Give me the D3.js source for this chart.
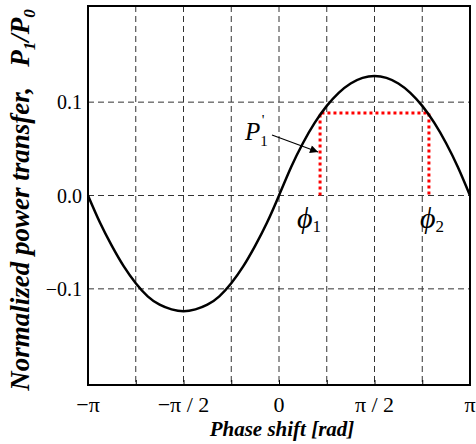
<!DOCTYPE html>
<html><head><meta charset="utf-8">
<script src="https://cdn.jsdelivr.net/npm/d3@7"></script>
<style>html,body{margin:0;padding:0;background:#fff;}svg{display:block;}</style>
</head><body>
<svg id="c" width="476" height="444"></svg>
<script>
// phase shift in units of pi
const phase = [-1, -0.9375, -0.875, -0.8125, -0.75, -0.6875, -0.625, -0.5625, -0.5, -0.4375, -0.375, -0.3125, -0.25, -0.1875, -0.125, -0.0625,
  0, 0.0625, 0.125, 0.1875, 0.25, 0.3125, 0.375, 0.4375, 0.5, 0.5625, 0.625, 0.6875, 0.75, 0.8125, 0.875, 0.9375, 1];
const power = [0, -0.029, -0.054, -0.076, -0.094, -0.108, -0.117, -0.122, -0.124, -0.122, -0.117, -0.108, -0.094, -0.076, -0.054, -0.029,
  0, 0.030, 0.056, 0.078, 0.096, 0.110, 0.120, 0.126, 0.128, 0.126, 0.120, 0.110, 0.096, 0.078, 0.056, 0.030, 0];
const xTicks = [-1, -0.5, 0, 0.5, 1];
const xTickLabels = ["\u2212\u03C0", "\u2212\u03C0 / 2", "0", "\u03C0 / 2", "\u03C0"];
const xGrid = [-0.75, -0.5, -0.25, 0, 0.25, 0.5, 0.75];
const yTicks = [-0.1, 0.0, 0.1];
const yTickLabels = ["\u22120.1", "0.0", "0.1"];
const phi1 = 0.215, phi2 = 0.785, pLevel = 0.0885;

const svg = d3.select("#c");
const L = 88, R = 470, T = 6, B = 385;
const x = d3.scaleLinear().domain([-1, 1]).range([L, R]);
const y = d3.scaleLinear().domain([-0.203, 0.203]).range([B, T]);
const serif = "'Liberation Serif','Times New Roman',serif";

// grid
const g = svg.append("g");
g.selectAll("line.vg").data(xGrid).join("line")
  .attr("x1", d => x(d)).attr("x2", d => x(d)).attr("y1", T).attr("y2", B)
  .attr("stroke", "#333").attr("stroke-width", 1).attr("stroke-dasharray", "6,4");
g.selectAll("line.hg").data(yTicks).join("line")
  .attr("x1", L).attr("x2", R).attr("y1", d => y(d)).attr("y2", d => y(d))
  .attr("stroke", "#333").attr("stroke-width", 1).attr("stroke-dasharray", "6,4");

// inward ticks on bottom axis
const xAxis = d3.axisBottom(x).tickValues(xGrid.concat([-1, 1])).tickSize(-5).tickFormat("");
const xa = svg.append("g").attr("transform", `translate(0,${B})`).call(xAxis);
xa.select(".domain").remove();
xa.selectAll("line").attr("stroke", "#000");

// tick labels
svg.selectAll("text.xt").data(xTicks).join("text")
  .attr("x", d => x(d)).attr("y", 412).attr("text-anchor", "middle")
  .attr("font-family", serif).attr("font-size", 22)
  .text((d, i) => xTickLabels[i]);
svg.selectAll("text.yt").data(yTicks).join("text")
  .attr("x", 82).attr("y", d => y(d) + 7).attr("text-anchor", "end")
  .attr("font-family", serif).attr("font-size", 20)
  .text((d, i) => yTickLabels[i]);

// red dotted operating window
const red = [[phi1, 0], [phi1, pLevel], [phi2, pLevel], [phi2, 0]];
svg.append("path").datum(red)
  .attr("d", d3.line().x(d => x(d[0])).y(d => y(d[1])))
  .attr("fill", "none").attr("stroke", "#ff0000").attr("stroke-width", 3)
  .attr("stroke-dasharray", "3,3");

// curve
svg.append("path").datum(phase.map((p, i) => [p, power[i]]))
  .attr("d", d3.line().x(d => x(d[0])).y(d => y(d[1])).curve(d3.curveNatural))
  .attr("fill", "none").attr("stroke", "#000").attr("stroke-width", 2.5);

// frame
svg.append("rect").attr("x", L).attr("y", T).attr("width", R - L).attr("height", B - T)
  .attr("fill", "none").attr("stroke", "#000").attr("stroke-width", 2);

// arrow
svg.append("defs").append("marker").attr("id", "ah").attr("viewBox", "0 0 10 10")
  .attr("refX", 10).attr("refY", 5).attr("markerWidth", 11).attr("markerHeight", 8)
  .attr("markerUnits", "userSpaceOnUse").attr("orient", "auto")
  .append("path").attr("d", "M0,0L10,5L0,10z").attr("fill", "#000");
svg.append("line").attr("x1", 272).attr("y1", 135).attr("x2", x(phi1) - 2).attr("y2", 152)
  .attr("stroke", "#000").attr("stroke-width", 1.2).attr("marker-end", "url(#ah)");

// annotations
const p1 = svg.append("text").attr("x", 245).attr("y", 140).attr("font-family", serif)
  .attr("font-size", 25).attr("font-style", "italic");
p1.append("tspan").text("P");
p1.append("tspan").attr("font-size", 15).attr("font-style", "normal").attr("dy", 6).text("1");
p1.append("tspan").attr("font-size", 15).attr("font-style", "normal").attr("dx", -6).attr("dy", -21).text("'");

function phiLabel(px, sub) {
  const t = svg.append("text").attr("x", px).attr("y", 228).attr("font-family", serif)
    .attr("font-size", 30).attr("font-style", "italic");
  t.append("tspan").text("\u03D5");
  t.append("tspan").attr("font-size", 17).attr("font-style", "normal").attr("dy", 4).text(sub);
}
phiLabel(297, "1");
phiLabel(420, "2");

// axis titles
svg.append("text").attr("x", 282).attr("y", 436).attr("text-anchor", "middle")
  .attr("font-family", serif).attr("font-size", 21).attr("font-weight", "bold")
  .attr("font-style", "italic").text("Phase shift [rad]");

const yl = svg.append("text").attr("transform", "translate(29,200) rotate(-90)")
  .attr("text-anchor", "middle").attr("font-family", serif).attr("font-size", 27)
  .attr("font-weight", "bold").attr("font-style", "italic");
yl.append("tspan").text("Normalized power transfer,\u00A0\u00A0 P");
yl.append("tspan").attr("font-size", 17).attr("dy", 6).text("1");
yl.append("tspan").attr("dy", -6).text("/P");
yl.append("tspan").attr("font-size", 17).attr("dy", 6).text("0");
</script>
</body></html>
